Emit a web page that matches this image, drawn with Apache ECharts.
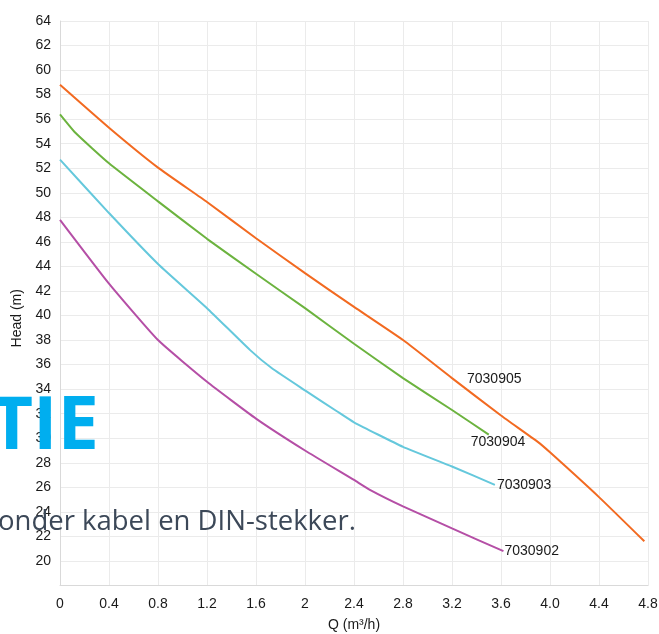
<!DOCTYPE html>
<html>
<head>
<meta charset="utf-8">
<script src="https://cdn.jsdelivr.net/npm/echarts@6/dist/echarts.min.js"></script>
<style>html,body{margin:0;padding:0;background:#fff;}#c{width:659px;height:634px;}</style>
</head>
<body>
<div id="c"></div>
<script>
// Q (m3/h), Head (m)
const s7030905 = [[0,58.8],[0.4,55.3],[0.8,52.05],[1.2,49.25],[1.6,46.3],[2.0,43.45],[2.4,40.7],[2.8,38.0],[3.2,34.9],[3.6,31.85],[3.9,29.7],[4.0,28.85],[4.4,25.2],[4.77,21.6]];
const s7030904 = [[0,56.4],[0.13,54.85],[0.4,52.4],[0.8,49.3],[1.2,46.25],[1.6,43.4],[2.0,40.6],[2.4,37.7],[2.8,34.9],[3.2,32.3],[3.5,30.3]];
const s7030903 = [[0,52.7],[0.4,48.35],[0.8,44.2],[1.2,40.6],[1.55,37.2],[1.73,35.7],[2.0,33.9],[2.26,32.2],[2.4,31.3],[2.8,29.3],[3.2,27.7],[3.55,26.2]];
const s7030902 = [[0,47.8],[0.4,42.6],[0.8,38.0],[1.2,34.6],[1.6,31.6],[2.0,29.0],[2.4,26.6],[2.53,25.8],[2.8,24.45],[3.2,22.65],[3.62,20.8]];
const seriesNames = ['7030905','7030904','7030903','7030902'];
const xTickLabels = ['0','0.4','0.8','1.2','1.6','2','2.4','2.8','3.2','3.6','4.0','4.4','4.8'];
const yTickLabels = ['', '20','22','24','26','28','30','32','34','36','38','40','42','44','46','48','50','52','54','56','58','60','62','64'];
const overlayTitle = 'TIE';
const overlaySub = 'onder kabel en DIN-stekker.';

const FONT = '"Liberation Sans", Arial, sans-serif';
const colors = ['#f26a21','#6cb33f','#65c8dc','#b54fa6'];

function withLabel(data, idx, labelOpt) {
  return data.map((p, i) => i === idx ? {value: p, label: Object.assign({show: true}, labelOpt)} : {value: p});
}
const labelBase = {color: '#1a1a1a', fontFamily: FONT, fontSize: 14, formatter: '{a}'};

const chart = echarts.init(document.getElementById('c'));
chart.setOption({
  animation: false,
  grid: {left: 60, right: 11, top: 21, bottom: 48.5, containLabel: false, outerBoundsMode: 'none'},
  xAxis: {
    type: 'value', min: 0, max: 4.8, interval: 0.4,
    name: 'Q (m³/h)', nameLocation: 'middle', nameGap: 33,
    nameTextStyle: {color: '#1a1a1a', fontFamily: FONT, fontSize: 14},
    axisLine: {show: true, lineStyle: {color: '#d9d9d9', width: 1}},
    axisTick: {show: false},
    axisLabel: {color: '#1a1a1a', fontFamily: FONT, fontSize: 14, margin: 12,
      formatter: v => xTickLabels[Math.round(v / 0.4)] || ''},
    splitLine: {show: true, lineStyle: {color: '#ebebeb', width: 1}}
  },
  yAxis: {
    type: 'value', min: 18, max: 64, interval: 2,
    name: 'Head (m)', nameLocation: 'middle', nameGap: 31, nameRotate: 90,
    nameTextStyle: {color: '#1a1a1a', fontFamily: FONT, fontSize: 14, padding: [0, 30, 0, 0]},
    axisLine: {show: true, lineStyle: {color: '#d9d9d9', width: 1}},
    axisTick: {show: false},
    axisLabel: {color: '#1a1a1a', fontFamily: FONT, fontSize: 14, margin: 9,
      formatter: v => yTickLabels[Math.round((v - 18) / 2)] || ''},
    splitLine: {show: true, lineStyle: {color: '#ebebeb', width: 1}}
  },
  series: [
    {name: seriesNames[0], type: 'line', smooth: 0.15, showSymbol: true, symbolSize: 0, symbol: 'circle',
     lineStyle: {color: colors[0], width: 2}, itemStyle: {color: colors[0]},
     data: withLabel(s7030905, 8, Object.assign({position: 'right', distance: 15, offset: [0, 1]}, labelBase))},
    {name: seriesNames[1], type: 'line', smooth: 0.15, showSymbol: true, symbolSize: 0, symbol: 'circle',
     lineStyle: {color: colors[1], width: 2}, itemStyle: {color: colors[1]},
     data: withLabel(s7030904, s7030904.length - 1, Object.assign({position: 'right', distance: 0, offset: [-18, 8]}, labelBase))},
    {name: seriesNames[2], type: 'line', smooth: 0.15, showSymbol: true, symbolSize: 0, symbol: 'circle',
     lineStyle: {color: colors[2], width: 2}, itemStyle: {color: colors[2]},
     data: withLabel(s7030903, s7030903.length - 1, Object.assign({position: 'right', distance: 2, offset: [0, 0]}, labelBase))},
    {name: seriesNames[3], type: 'line', smooth: 0.15, showSymbol: true, symbolSize: 0, symbol: 'circle',
     lineStyle: {color: colors[3], width: 2}, itemStyle: {color: colors[3]},
     data: withLabel(s7030902, s7030902.length - 1, Object.assign({position: 'right', distance: 1, offset: [0, 0]}, labelBase))}
  ],
  graphic: [
    {type: 'text', z: 100, x: 99, y: 391,
     style: {text: overlayTitle, fill: '#00aeef', font: 'bold 74px "Open Sans", sans-serif', align: 'right', verticalAlign: 'top'}},
    {type: 'text', z: 100, x: -2, y: 508,
     style: {text: overlaySub, fill: '#3c4858', font: '27.5px "Open Sans", sans-serif', align: 'left', verticalAlign: 'top'}}
  ]
});
</script>
</body>
</html>
